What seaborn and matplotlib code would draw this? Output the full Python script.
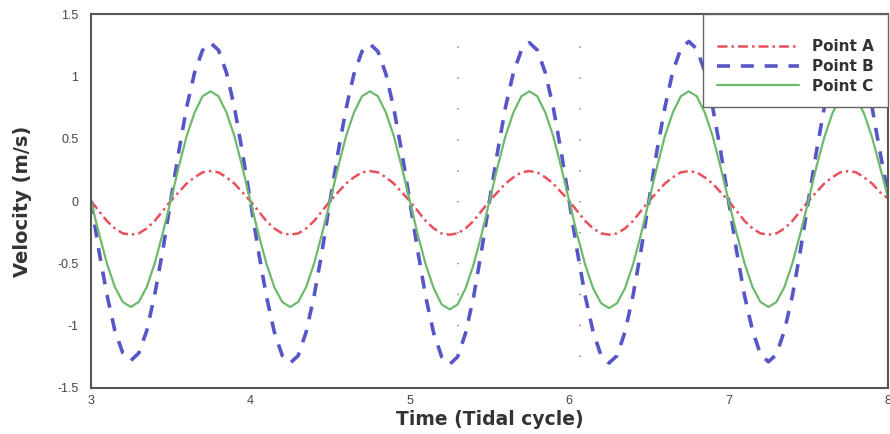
import numpy as np
import pandas as pd
import matplotlib.pyplot as plt
import seaborn as sns
from matplotlib.ticker import MultipleLocator, FormatStrFormatter

# time axis, sampled every 0.05 tidal cycle from 3 to 8
time = np.linspace(3.0, 8.0, 101)

# velocities (m/s), one line per half cycle
point_a = [
    0.00, -0.08, -0.16, -0.22, -0.26, -0.27, -0.26, -0.22, -0.16, -0.08,
    0.00, 0.07, 0.14, 0.19, 0.23, 0.24, 0.23, 0.19, 0.14, 0.07,
    0.00, -0.08, -0.16, -0.22, -0.26, -0.27, -0.26, -0.22, -0.16, -0.08,
    0.00, 0.07, 0.14, 0.19, 0.23, 0.24, 0.23, 0.19, 0.14, 0.07,
    0.00, -0.08, -0.16, -0.22, -0.26, -0.27, -0.26, -0.22, -0.16, -0.08,
    0.00, 0.07, 0.14, 0.19, 0.23, 0.24, 0.23, 0.19, 0.14, 0.07,
    0.00, -0.08, -0.16, -0.22, -0.26, -0.27, -0.26, -0.22, -0.16, -0.08,
    0.00, 0.07, 0.14, 0.19, 0.23, 0.24, 0.23, 0.19, 0.14, 0.07,
    0.00, -0.08, -0.16, -0.22, -0.26, -0.27, -0.26, -0.22, -0.16, -0.08,
    0.00, 0.07, 0.14, 0.19, 0.23, 0.24, 0.23, 0.19, 0.14, 0.07,
    0.02,
]
point_b = [
    0.00, -0.40, -0.75, -1.04, -1.22, -1.28, -1.22, -1.04, -0.75, -0.40,
    0.00, 0.39, 0.75, 1.03, 1.21, 1.27, 1.21, 1.03, 0.75, 0.39,
    0.00, -0.40, -0.76, -1.05, -1.24, -1.30, -1.24, -1.05, -0.76, -0.40,
    0.00, 0.39, 0.74, 1.02, 1.20, 1.26, 1.20, 1.02, 0.74, 0.39,
    0.00, -0.40, -0.77, -1.06, -1.25, -1.31, -1.25, -1.06, -0.77, -0.40,
    0.00, 0.39, 0.75, 1.03, 1.21, 1.27, 1.21, 1.03, 0.75, 0.39,
    0.00, -0.40, -0.76, -1.05, -1.24, -1.30, -1.24, -1.05, -0.76, -0.40,
    0.00, 0.40, 0.75, 1.04, 1.22, 1.28, 1.22, 1.04, 0.75, 0.40,
    0.00, -0.40, -0.76, -1.04, -1.23, -1.29, -1.23, -1.04, -0.76, -0.40,
    0.00, 0.39, 0.75, 1.03, 1.21, 1.27, 1.21, 1.03, 0.75, 0.39,
    0.05,
]
point_c = [
    0.00, -0.26, -0.50, -0.69, -0.81, -0.85, -0.81, -0.69, -0.50, -0.26,
    0.00, 0.27, 0.52, 0.71, 0.84, 0.88, 0.84, 0.71, 0.52, 0.27,
    0.00, -0.26, -0.50, -0.69, -0.81, -0.85, -0.81, -0.69, -0.50, -0.26,
    0.00, 0.27, 0.52, 0.71, 0.84, 0.88, 0.84, 0.71, 0.52, 0.27,
    0.00, -0.27, -0.51, -0.70, -0.83, -0.87, -0.83, -0.70, -0.51, -0.27,
    0.00, 0.27, 0.52, 0.71, 0.84, 0.88, 0.84, 0.71, 0.52, 0.27,
    0.00, -0.27, -0.51, -0.70, -0.82, -0.86, -0.82, -0.70, -0.51, -0.27,
    0.00, 0.27, 0.52, 0.71, 0.84, 0.88, 0.84, 0.71, 0.52, 0.27,
    0.00, -0.26, -0.50, -0.69, -0.81, -0.85, -0.81, -0.69, -0.50, -0.26,
    0.00, 0.27, 0.51, 0.70, 0.83, 0.87, 0.83, 0.70, 0.51, 0.27,
    0.03,
]
series_names = ['Point A', 'Point B', 'Point C']

# faint dotted guide lines visible in the original plot
guide_x = [5.3, 6.07]

df = pd.concat([
    pd.DataFrame({'Time': time, 'Velocity': vals, 'Series': name})
    for name, vals in zip(series_names, [point_a, point_b, point_c])
])

sns.set_style('white')
plt.rcParams['font.family'] = ['Liberation Sans', 'DejaVu Sans']

colors = {'Point A': '#e8505c', 'Point B': '#5656c8', 'Point C': '#6dba6d'}
dashes = {'Point A': (4, 1.6, 1, 1.6), 'Point B': (3.6, 3.0), 'Point C': ''}

fig = plt.figure(figsize=(8.9, 4.34), dpi=100)
ax = fig.add_axes([0.1022, 0.106, 0.8956, 0.8617])

sns.lineplot(data=df, x='Time', y='Velocity', hue='Series', style='Series',
             palette=colors, dashes=dashes, ax=ax, legend=False)
widths = {'Point A': 1.8, 'Point B': 2.6, 'Point C': 1.6}
for line, name in zip(ax.lines, series_names):
    line.set_linewidth(widths[name])

for gx in guide_x:
    ax.axvline(gx, ymin=1 / 12, ymax=11 / 12, color='#9a9a9a', lw=1.4,
               linestyle=(0, (0.7, 15.2)), zorder=0)

ax.set_xlim(3, 8)
ax.set_ylim(-1.5, 1.5)
ax.xaxis.set_major_locator(MultipleLocator(1))
ax.xaxis.set_minor_locator(MultipleLocator(0.2))
ax.yaxis.set_major_locator(MultipleLocator(0.5))
ax.yaxis.set_minor_locator(MultipleLocator(0.25))
ax.yaxis.set_major_formatter(FormatStrFormatter('%g'))

ax.tick_params(which='both', direction='in', colors='#555555', labelcolor='#444444',
               labelsize=9)
ax.tick_params(which='major', length=6, width=1.3)
ax.tick_params(which='minor', length=3, width=0.8)
ax.tick_params(axis='y', pad=9)
ax.tick_params(axis='x', pad=5)
for sp in ax.spines.values():
    sp.set_color('#555555')
    sp.set_linewidth(1.5)

label_font = {'family': 'DejaVu Sans', 'size': 13.5, 'weight': 'bold'}
ax.set_xlabel('Time (Tidal cycle)', fontdict=label_font, color='#333333', labelpad=2)
ax.set_ylabel('Velocity (m/s)', fontdict={**label_font, 'size': 14}, color='#333333',
              labelpad=18)

# legend built from the drawn lines
handles = ax.lines[:3]
leg = ax.legend(handles, series_names, loc='upper right', bbox_to_anchor=(1.0, 1.0),
                borderaxespad=0, frameon=True, fancybox=False, framealpha=1,
                handlelength=5.4, handletextpad=0.85, labelspacing=0.3,
                borderpad=0.9, title=' ', title_fontsize=5.5,
                prop={'family': 'DejaVu Sans', 'weight': 'bold', 'size': 11})
leg.get_frame().set_edgecolor('#666666')
leg.get_frame().set_linewidth(1.0)
for t in leg.get_texts():
    t.set_color('#333333')

fig.savefig('out.png', dpi=100)
